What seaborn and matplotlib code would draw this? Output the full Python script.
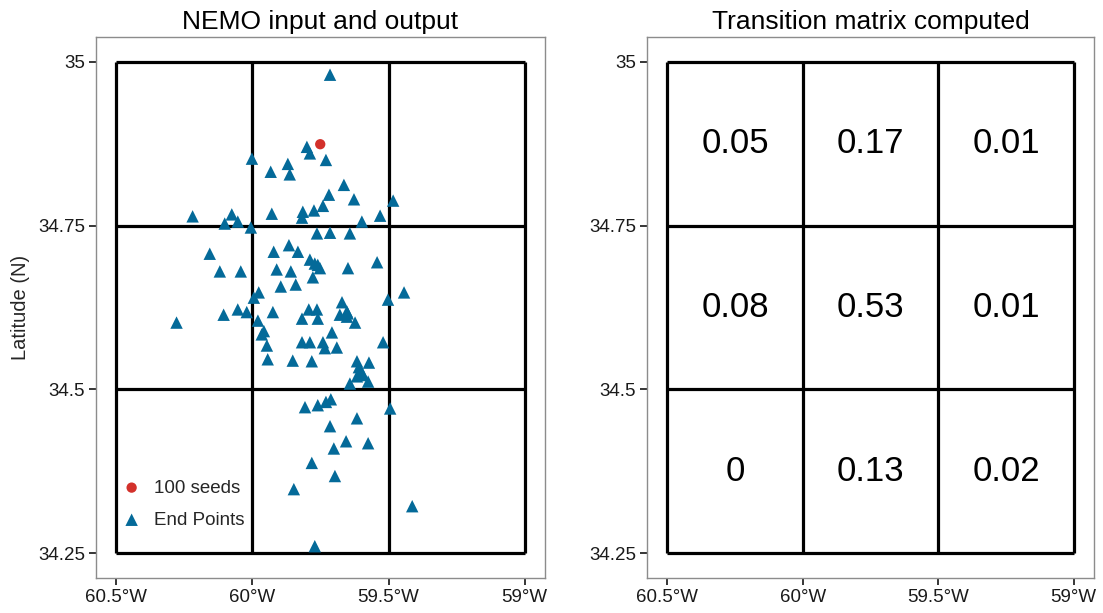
import numpy as np
import pandas as pd
import matplotlib
matplotlib.use("Agg")
import matplotlib.pyplot as plt
import seaborn as sns

# Particle end positions (longitude, latitude) after advection
end_lon = [
    -59.715, -59.800, -59.789, -59.730, -60.002, -59.870, -59.933, -59.863, -59.664, -59.719,
    -59.627, -59.483, -60.220, -60.076, -59.929, -59.815, -59.818, -59.774, -59.741, -59.531,
    -60.054, -60.102, -59.598, -60.006, -59.763, -59.715, -59.642, -60.157, -59.922, -59.866,
    -59.833, -59.789, -59.771, -59.752, -59.778, -59.649, -59.542, -60.120, -60.043, -59.911,
    -59.859, -59.896, -59.841, -59.977, -59.995, -59.443, -59.502, -59.671, -60.279, -60.106,
    -60.054, -60.021, -59.925, -59.793, -59.763, -59.818, -59.760, -59.679, -59.653, -59.653,
    -59.623, -59.980, -59.958, -59.966, -59.708, -59.520, -59.947, -59.818, -59.789, -59.741,
    -59.734, -59.690, -59.944, -59.852, -59.782, -59.616, -59.572, -59.609, -59.616, -59.594,
    -59.575, -59.642, -59.807, -59.760, -59.730, -59.712, -59.494, -59.715, -59.616, -59.656,
    -59.575, -59.701, -59.782, -59.697, -59.848, -59.413, -59.771, -59.760, -59.650, -59.600,
]
end_lat = [
    34.980, 34.870, 34.860, 34.850, 34.852, 34.844, 34.832, 34.828, 34.812, 34.797,
    34.790, 34.788, 34.764, 34.767, 34.768, 34.771, 34.762, 34.773, 34.780, 34.765,
    34.756, 34.753, 34.756, 34.747, 34.738, 34.739, 34.738, 34.707, 34.710, 34.720,
    34.710, 34.698, 34.692, 34.685, 34.671, 34.685, 34.694, 34.680, 34.680, 34.683,
    34.680, 34.657, 34.660, 34.648, 34.640, 34.648, 34.637, 34.633, 34.602, 34.614,
    34.622, 34.618, 34.618, 34.622, 34.622, 34.608, 34.608, 34.614, 34.619, 34.611,
    34.602, 34.605, 34.589, 34.584, 34.587, 34.572, 34.567, 34.572, 34.572, 34.572,
    34.563, 34.564, 34.546, 34.544, 34.543, 34.543, 34.541, 34.534, 34.520, 34.522,
    34.512, 34.509, 34.473, 34.476, 34.481, 34.485, 34.471, 34.444, 34.456, 34.421,
    34.418, 34.410, 34.388, 34.368, 34.348, 34.322, 34.261, 34.690, 34.616, 34.528,
]

# Release location of the seeds
seed_lon = [-59.751]
seed_lat = [34.874]

# Grid cell edges
lon_edges = [-60.5, -60.0, -59.5, -59.0]
lat_edges = [34.25, 34.5, 34.75, 35.0]

# Transition probabilities, rows from north to south, columns from west to east
transition = [
    [0.05, 0.17, 0.01],
    [0.08, 0.53, 0.01],
    [0, 0.13, 0.02],
]

lon_labels = ["60.5°W", "60°W", "59.5°W", "59°W"]
lat_labels = ["34.25", "34.5", "34.75", "35"]

sns.set_style("white")
plt.rcParams["font.family"] = ["Liberation Sans", "DejaVu Sans"]

fig = plt.figure(figsize=(11.03, 6.13), dpi=100)
ax1 = fig.add_axes([96 / 1103, 35 / 613, 449 / 1103, 541 / 613])
ax2 = fig.add_axes([647 / 1103, 35 / 613, 447 / 1103, 541 / 613])

ends = pd.DataFrame({"lon": end_lon, "lat": end_lat})
seeds = pd.DataFrame({"lon": seed_lon, "lat": seed_lat})

BLUE = "#046a99"
RED = "#d3312b"


def draw_grid(ax):
    ax.vlines(lon_edges, lat_edges[0], lat_edges[-1], colors="black", lw=2.3, zorder=1)
    ax.hlines(lat_edges, lon_edges[0], lon_edges[-1], colors="black", lw=2.3, zorder=1)


def style_axes(ax, title):
    ax.set_xlim(-60.575, -58.925)
    ax.set_ylim(34.2125, 35.0375)
    ax.set_xticks(lon_edges)
    ax.set_xticklabels(lon_labels)
    ax.set_yticks(lat_edges)
    ax.set_yticklabels(lat_labels)
    ax.tick_params(axis="both", direction="out", length=5, width=1.1,
                   color="black", labelsize=13.5, labelcolor="#1a1a1a",
                   bottom=True, left=True, pad=3)
    for sp in ax.spines.values():
        sp.set_color("#8c8c8c")
        sp.set_linewidth(1.0)
    ax.set_title(title, fontsize=19, color="black", pad=6)
    ax.set_xlabel("")


# Left panel: seeds and end points
draw_grid(ax1)
sns.scatterplot(data=seeds, x="lon", y="lat", ax=ax1, color=RED, marker="o",
                s=55, edgecolor="none", label="100 seeds", zorder=3)
sns.scatterplot(data=ends, x="lon", y="lat", ax=ax1, color=BLUE, marker="^",
                s=80, edgecolor="none", label="End Points", zorder=2)
style_axes(ax1, "NEMO input and output")
ax1.set_ylabel("Latitude (N)", fontsize=14.5, labelpad=6)
leg = ax1.legend(loc="lower left", bbox_to_anchor=(0.0, 0.06), frameon=False,
                 fontsize=13.5, handletextpad=0.2, labelspacing=0.8,
                 borderaxespad=0.5, markerscale=1.0)

# Right panel: transition matrix
draw_grid(ax2)
centers_lon = [(lon_edges[i] + lon_edges[i + 1]) / 2 for i in range(3)]
centers_lat = [(lat_edges[i] + lat_edges[i + 1]) / 2 for i in range(3)][::-1]
for r, lat in enumerate(centers_lat):
    for c, lon in enumerate(centers_lon):
        v = transition[r][c]
        ax2.text(lon, lat, f"{v:g}", ha="center", va="center", fontsize=25, color="black")
style_axes(ax2, "Transition matrix computed")
ax2.set_ylabel("")

fig.savefig("out.png", dpi=100)
